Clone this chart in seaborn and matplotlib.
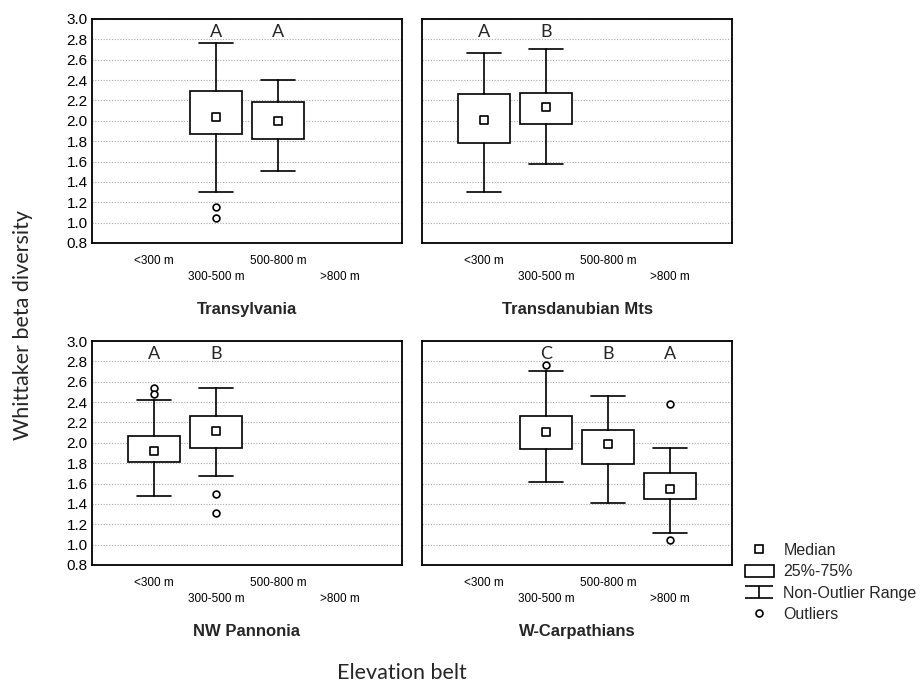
import numpy as np
import pandas as pd
import matplotlib
matplotlib.use("Agg")
import matplotlib.pyplot as plt
from matplotlib.lines import Line2D
from matplotlib.patches import Rectangle
from matplotlib.path import Path
import seaborn as sns

nan = np.nan

regions = ["Transylvania", "Transdanubian Mts", "NW Pannonia", "W-Carpathians"]
belts = ["<300 m", "300-500 m", "500-800 m", ">800 m"]

# summary statistics, one row per region, one column per elevation belt (nan = no plots)
whis_lo = [[nan, 1.30, 1.51, nan],
           [1.30, 1.58, nan, nan],
           [1.48, 1.67, nan, nan],
           [nan, 1.62, 1.405, 1.11]]
q1 = [[nan, 1.87, 1.82, nan],
      [1.78, 1.965, nan, nan],
      [1.81, 1.95, nan, nan],
      [nan, 1.935, 1.79, 1.45]]
medians = [[nan, 2.04, 2.00, nan],
           [2.01, 2.135, nan, nan],
           [1.92, 2.12, nan, nan],
           [nan, 2.105, 1.985, 1.545]]
q3 = [[nan, 2.29, 2.18, nan],
      [2.26, 2.275, nan, nan],
      [2.07, 2.26, nan, nan],
      [nan, 2.26, 2.13, 1.70]]
whis_hi = [[nan, 2.76, 2.40, nan],
           [2.67, 2.705, nan, nan],
           [2.42, 2.535, nan, nan],
           [nan, 2.71, 2.46, 1.95]]
outliers = [[[], [1.15, 1.05], [], []],
            [[], [], [], []],
            [[2.54, 2.48], [1.50, 1.31], [], []],
            [[], [2.76], [], [2.385, 1.05]]]
letters = [["", "A", "A", ""],
           ["A", "B", "", ""],
           ["A", "B", "", ""],
           ["", "C", "B", "A"]]

LETTER_Y = 2.87
TICK_FONT = "Liberation Sans"
TEXT_FONT = "Lato"

sns.set_style("white")
plt.rcParams["font.family"] = [TICK_FONT, "DejaVu Sans"]

fig = plt.figure(figsize=(9.23, 6.86), dpi=100)
left_x = [92 / 923, 422 / 923]
bottom_y = [1 - 243 / 686, 1 - 565 / 686]
w, h = 310 / 923, 224 / 686

lw = 1.2
for r, region in enumerate(regions):
    row, col = divmod(r, 2)
    ax = fig.add_axes([left_x[col], bottom_y[row], w, h])

    stats = []
    pos = []
    for b in range(len(belts)):
        if np.isnan(medians[r][b]):
            continue
        stats.append(dict(med=medians[r][b], q1=q1[r][b], q3=q3[r][b],
                          whislo=whis_lo[r][b], whishi=whis_hi[r][b], fliers=[]))
        pos.append(b)
    ax.bxp(stats, positions=pos, widths=0.83, capwidths=0.54,
           patch_artist=True, showfliers=False, manage_ticks=False,
           boxprops=dict(facecolor="white", edgecolor="black", linewidth=lw),
           whiskerprops=dict(color="black", linewidth=lw),
           capprops=dict(color="black", linewidth=lw),
           medianprops=dict(linewidth=0))

    med_df = pd.DataFrame({"pos": pos, "median": [medians[r][b] for b in pos]})
    sns.scatterplot(data=med_df, x="pos", y="median", marker="s", s=30,
                    color="white", edgecolor="black", linewidth=lw, zorder=5, ax=ax)

    out_df = pd.DataFrame([(b, v) for b in range(len(belts)) for v in outliers[r][b]],
                          columns=["pos", "value"])
    if len(out_df):
        sns.scatterplot(data=out_df, x="pos", y="value", marker="o", s=24,
                        color="white", edgecolor="black", linewidth=lw, zorder=5, ax=ax)

    for b, lab in enumerate(letters[r]):
        if lab:
            ax.text(b, LETTER_Y, lab, ha="center", va="center",
                    fontsize=13, family=TEXT_FONT)

    ax.set_xlim(-1, 4)
    ax.set_ylim(0.8, 3.0)
    ax.set_yticks(np.round(np.arange(0.8, 3.01, 0.2), 1))
    ax.set_yticklabels([f"{v:.1f}" for v in np.arange(0.8, 3.01, 0.2)] if col == 0 else [])
    ax.set_xticks(range(len(belts)))
    ax.set_xticklabels([lab if i % 2 == 0 else "\n" + lab for i, lab in enumerate(belts)])
    for t in ax.get_xticklabels():
        t.set_linespacing(1.35)
    ax.tick_params(axis="x", direction="in", length=4, width=1, pad=9,
                   labelsize=8.5, colors="black")
    ax.tick_params(axis="y", direction="in", length=4, width=1, pad=3,
                   labelsize=11, colors="black")
    ax.yaxis.grid(True, linestyle=(0, (1, 1.5)), color="#a8a8a8", linewidth=0.8)
    ax.set_axisbelow(True)
    for s in ax.spines.values():
        s.set_color("black")
        s.set_linewidth(1.3)
    ax.set_ylabel("")
    ax.set_xlabel(region, fontsize=12, fontweight="bold", labelpad=14)

fig.text(23 / 923, 1 - 325 / 686, "Whittaker beta diversity", rotation=90,
         ha="center", va="center", fontsize=15.5, family=TEXT_FONT)
fig.text(402 / 923, 1 - 673 / 686, "Elevation belt",
         ha="center", va="center", fontsize=15.5, family=TEXT_FONT)

# legend with statistica-style symbols
ibeam = Path([(-1, 0.45), (1, 0.45), (0, 0.45), (0, -0.45), (-1, -0.45), (1, -0.45)],
             [Path.MOVETO, Path.LINETO, Path.MOVETO, Path.LINETO, Path.MOVETO, Path.LINETO])
handles = [
    Line2D([], [], marker="s", ls="none", mfc="white", mec="black", ms=5.5, mew=lw),
    Rectangle((0, 0), 1, 1, fc="white", ec="black", lw=lw),
    Line2D([], [], marker=ibeam, ls="none", color="black", ms=20, mew=lw),
    Line2D([], [], marker="o", ls="none", mfc="white", mec="black", ms=5, mew=lw),
]
labels = ["Median", "25%-75%", "Non-Outlier Range", "Outliers"]
fig.legend(handles, labels, loc="upper left", bbox_to_anchor=(745 / 923, 1 - 543 / 686),
           frameon=False, fontsize=11.5, handlelength=1.8, handleheight=0.8,
           handletextpad=0.6, labelspacing=0.4, borderaxespad=0, borderpad=0)

fig.savefig("out.png", dpi=100)
